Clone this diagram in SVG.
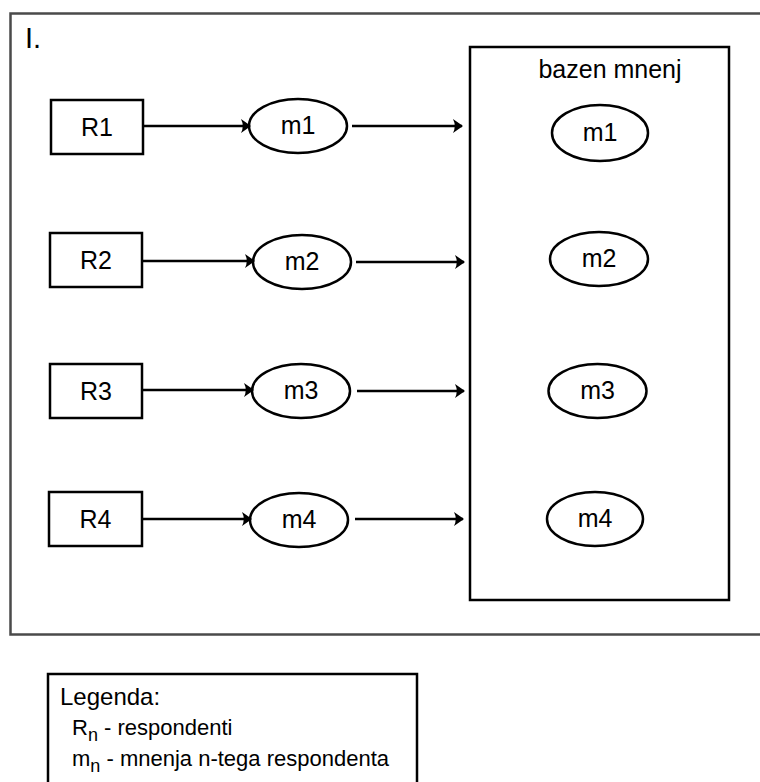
<svg xmlns="http://www.w3.org/2000/svg" width="760" height="782" viewBox="0 0 760 782">
<style>
.box{fill:#fff;stroke:#000;stroke-width:2.5}
.frame{fill:#fff;stroke:#4a4a4a;stroke-width:2.5}
.ell{fill:#fff;stroke:#000;stroke-width:2.5}
.lbl{font-family:"Liberation Sans",Arial,sans-serif;font-size:25px;fill:#000;text-anchor:middle}
.txt{font-family:"Liberation Sans",Arial,sans-serif;fill:#000}
.conn{stroke:#000;stroke-width:2.5;fill:none;marker-end:url(#ah)}
</style>
<defs>
<marker id="ah" markerUnits="userSpaceOnUse" markerWidth="10" markerHeight="15" refX="9" refY="7.5" orient="auto" viewBox="0 0 10 15">
<path d="M10,7.5 L0,0.5 Q3.5,7.5 0,14.5 Z" fill="#000"/>
</marker>
</defs>
<rect width="760" height="782" fill="#fff"/>
<g id="frame">
<rect class="frame" x="10.5" y="13.5" width="760" height="621"/>
<text class="txt" x="25" y="48" font-size="29">I.</text>
</g>
<g id="pool">
<rect class="box" x="470" y="47" width="259" height="553"/>
<text class="txt" x="610" y="78" font-size="25" text-anchor="middle">bazen mnenj</text>
</g>
<g id="R1"><rect class="box" x="51" y="100" width="92" height="54"/><text class="lbl" x="97" y="136">R1</text></g>
<g id="R2"><rect class="box" x="50" y="233" width="92" height="54"/><text class="lbl" x="96" y="269">R2</text></g>
<g id="R3"><rect class="box" x="50" y="364" width="92" height="54"/><text class="lbl" x="96" y="400">R3</text></g>
<g id="R4"><rect class="box" x="49" y="492" width="93" height="54"/><text class="lbl" x="95.5" y="528">R4</text></g>
<g id="m1"><ellipse class="ell" cx="298" cy="126" rx="49" ry="27"/><text class="lbl" x="298" y="134">m1</text></g>
<g id="m2"><ellipse class="ell" cx="302" cy="262" rx="49" ry="27"/><text class="lbl" x="302" y="270">m2</text></g>
<g id="m3"><ellipse class="ell" cx="301" cy="391" rx="49" ry="27"/><text class="lbl" x="301" y="399">m3</text></g>
<g id="m4"><ellipse class="ell" cx="299" cy="520" rx="49" ry="27"/><text class="lbl" x="299" y="528">m4</text></g>
<g id="pm1"><ellipse class="ell" cx="600" cy="133" rx="48" ry="28"/><text class="lbl" x="600" y="141">m1</text></g>
<g id="pm2"><ellipse class="ell" cx="599" cy="259" rx="49" ry="27"/><text class="lbl" x="599" y="267">m2</text></g>
<g id="pm3"><ellipse class="ell" cx="597.5" cy="391" rx="49" ry="27"/><text class="lbl" x="597.5" y="399">m3</text></g>
<g id="pm4"><ellipse class="ell" cx="595" cy="519" rx="48" ry="27"/><text class="lbl" x="595" y="527">m4</text></g>
<g id="connectors">
<path class="conn" d="M143,126 H250"/>
<path class="conn" d="M352,126 H462"/>
<path class="conn" d="M142,261 H254"/>
<path class="conn" d="M356,262 H464"/>
<path class="conn" d="M142,390 H253"/>
<path class="conn" d="M357,391 H464"/>
<path class="conn" d="M142,519 H251"/>
<path class="conn" d="M355,519 H463"/>
</g>
<g id="legend">
<rect class="box" x="48" y="674" width="369" height="120"/>
<text class="txt" x="60" y="705" font-size="24">Legenda:</text>
<text class="txt" x="72" y="735" font-size="22">R<tspan font-size="18" dy="6">n</tspan><tspan dy="-6"> - respondenti</tspan></text>
<text class="txt" x="72" y="766" font-size="22">m<tspan font-size="18" dy="6">n</tspan><tspan dy="-6"> - mnenja n-tega respondenta</tspan></text>
</g>
</svg>
